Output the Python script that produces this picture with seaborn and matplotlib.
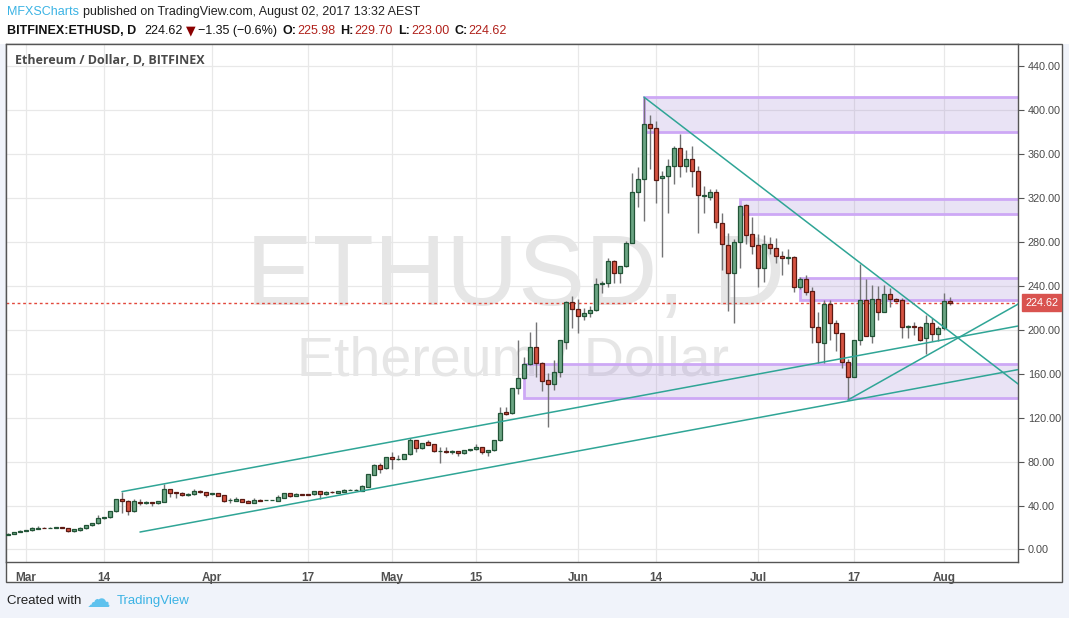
import numpy as np
import pandas as pd
import matplotlib
matplotlib.use("Agg")
import matplotlib.pyplot as plt
import matplotlib.transforms as mtransforms
from matplotlib.patches import Rectangle
from matplotlib import font_manager
import seaborn as sns

# ---------------- data ----------------
dates = pd.date_range("2017-02-26", "2017-08-02", freq="D")

opens = [13, 14.5, 16, 17, 17.5, 19, 20, 19.8, 20, 20.1,
         19.5, 16.5, 18.1, 19.3, 22, 23.8, 28.4, 29.3, 34.7, 45.6,
         44.6, 34.7, 43.7, 42, 43.3, 42, 43.6, 54.8, 52.4, 51.4,
         49.2, 50.2, 53.5, 52, 50.2, 51.5, 49.3, 45, 44.2, 46,
         44.5, 42.6, 45, 45, 45, 44.5, 47.2, 51.2, 49, 50.3,
         50.1, 50.2, 53.3, 50.2, 52.4, 51.5, 52.7, 54.2, 54.2, 53.6,
         57.2, 68, 76.5, 74, 84, 82.4, 82.7, 86.7, 99.4, 92,
         98, 95.8, 89.4, 89.4, 89, 89.4, 87.6, 90.3, 91.2, 93,
         88.5, 90.3, 99.4, 125.2, 124, 146.7, 156, 168.5, 184, 169.4,
         154, 150.4, 162, 188.6, 225, 218.7, 212.3, 215, 217.7, 241.5,
         242.4, 262.4, 251.5, 257.8, 279.6, 326, 337, 387.2, 383.5, 338,
         340, 349.6, 365.4, 349.6, 356, 344.4, 321.6, 320.6, 325.3, 297,
         277, 251.5, 279.7, 313.4, 287, 277, 256, 278, 274.3, 267,
         265.2, 266.2, 238.7, 246, 235.7, 202.3, 188.4, 224, 206, 196.8,
         170.4, 157.4, 190.8, 227, 194.7, 228, 216.5, 233, 228.5, 227,
         203, 204, 203, 192.2, 206.4, 196, 201.4, 225.98]

highs = [14.8, 16.2, 17.3, 17.8, 20.2, 21.4, 20.3, 20.3, 20.3, 20.3,
         19.8, 18.9, 20.3, 22.3, 24.1, 31, 29.9, 35.3, 46, 52.7,
         45, 45.6, 45.6, 44, 43.6, 44.3, 59.3, 55.5, 52.7, 52,
         51, 55, 54.3, 52.4, 51.8, 51.8, 49.6, 46.8, 47.8, 46.3,
         44.8, 46.6, 45.6, 45.4, 45.5, 49.7, 51.7, 51.5, 51.8, 50.6,
         50.4, 53.6, 53.6, 53, 53.6, 53.6, 55, 55.1, 54.9, 58.7,
         69.2, 77.5, 78.5, 84.5, 88.5, 86, 87, 101.2, 99.8, 97,
         99.6, 96, 93, 93, 91, 89.7, 90.6, 91.5, 95.8, 93.3,
         90.6, 99.7, 129.5, 129.5, 147.1, 190.7, 175.6, 197.8, 206.8, 171,
         161, 173, 191, 226, 231, 228, 219.5, 222, 247, 244.5,
         265.3, 264, 258.3, 281, 343.2, 348, 412, 395.7, 390, 344.7,
         356, 367.5, 378.4, 364, 367.5, 349, 331.5, 328.5, 328, 306.8,
         288, 283, 314, 315, 302.8, 287.7, 286.4, 284.8, 283.4, 272.3,
         273.4, 267, 248, 250, 239.4, 216.6, 227, 227, 209, 197.5,
         173.2, 191, 260, 246, 240.9, 240, 240.9, 237.9, 229.5, 228.7,
         204.3, 207.5, 204, 213.7, 211, 203.6, 233.3, 229.70]

lows = [12.8, 14.2, 15.7, 16.8, 17.2, 18.8, 19.5, 19.6, 19.7, 19.5,
        16.3, 16.2, 17, 19, 21.8, 23.5, 28.1, 29, 34.4, 33.5,
        31.7, 34.4, 40.8, 41.7, 39.9, 41, 43.3, 48.1, 47.2, 48.8,
        48.9, 49.9, 51.7, 47.8, 49.8, 48.6, 43.6, 41.9, 43.9, 43.3,
        42.3, 42.3, 44.2, 44.7, 44.7, 44.2, 46.9, 47.8, 48.7, 49.8,
        49.7, 49.9, 45.9, 49.9, 51.7, 51.2, 52.4, 53.9, 53.9, 53.3,
        56.9, 67.5, 70, 73.5, 73, 81.8, 82.4, 86.4, 89, 91.7,
        94.8, 89.1, 79, 88.2, 87, 85.4, 87.3, 90, 90.9, 86.7,
        85.4, 90, 99.1, 122.5, 123.7, 142, 155.7, 168.2, 156.8, 144.7,
        111.8, 145, 157, 183, 202, 197.5, 209, 211.7, 217.4, 233.3,
        239, 242.4, 242.4, 257.5, 279.3, 311.6, 298.9, 347, 315.9, 266,
        306.8, 332.9, 339, 343.7, 329.8, 288.6, 306.5, 318, 292.7, 254.6,
        216.8, 206, 256.7, 277.9, 269, 239.4, 243.9, 269, 261.2, 250,
        260, 234.7, 237, 232, 188.4, 170, 170, 190.8, 181, 165,
        136.2, 156.8, 186.2, 194, 188.4, 209, 216, 220.5, 225.5, 192.3,
        192.3, 195.3, 190.2, 178, 190.2, 190.2, 200, 223.00]

closes = [14.5, 16, 17, 17.5, 19.3, 20, 19.8, 20, 20.1, 19.8,
          16.5, 18.7, 19.6, 22, 23.8, 28.4, 29.6, 35, 45.6, 44.5,
          34.7, 44, 42, 43.5, 42, 44, 54.8, 51.2, 51.2, 49.2,
          50.5, 53.3, 52, 50, 51.5, 49, 44.2, 45.2, 46, 43.6,
          42.6, 45, 44.5, 45.1, 45.2, 47.8, 51.4, 49, 50.8, 50,
          49.9, 53.3, 50.2, 52.4, 52, 53.3, 54.5, 54.4, 54.5, 57.8,
          68.8, 77, 73.3, 84, 82, 82.6, 86.7, 99.4, 92, 96.7,
          95, 89.4, 89.6, 88.5, 89.4, 87.6, 90.3, 91.2, 93, 88.5,
          90.3, 99.4, 124.6, 123, 146.7, 156, 168.5, 184, 169.4, 153.4,
          150.4, 162, 190.4, 225, 218.7, 212.3, 215.3, 218, 241.5, 243,
          262.4, 251.5, 257.8, 278.7, 326, 337, 387.2, 383.5, 336.5, 340,
          349, 365.4, 349.6, 356, 344.4, 322.5, 322.5, 325.3, 297.9, 278,
          251.5, 279.7, 312.8, 286, 276, 256, 278, 274.3, 267, 265.2,
          266.2, 238.7, 246, 234.7, 202.3, 189.2, 224, 206, 196.8, 170.4,
          157.4, 190.8, 227, 194.7, 228, 216.5, 232.6, 228, 226.5, 203,
          204, 203, 190.7, 206.4, 196, 201.4, 226.5, 224.62]

# drawn zones: start date, low, high
zone_start = ["2017-06-12", "2017-06-28", "2017-07-08", "2017-05-23"]
zone_low = [380, 305.3, 227.2, 137.7]
zone_high = [412.5, 319.2, 247, 168.7]

# trend lines: (start date, start value, end date, end value)
trend_names = ["upper channel", "lower channel", "falling", "rising"]
trend_x0 = ["2017-03-17", "2017-03-20", "2017-06-12", "2017-07-16"]
trend_y0 = [52.7, 15.9, 412, 136.2]
trend_x1 = ["2017-08-14", "2017-08-14", "2017-08-14", "2017-08-14"]
trend_y1 = [204.2, 164.5, 148, 225.5]

last_price = 224.62
y_ticks = list(range(0, 441, 40))
x_tick_dates = ["2017-03-01", "2017-03-14", "2017-04-01", "2017-04-17", "2017-05-01",
                "2017-05-15", "2017-06-01", "2017-06-14", "2017-07-01", "2017-07-17",
                "2017-08-01"]
x_tick_labels = ["Mar", "14", "Apr", "17", "May", "15", "Jun", "14", "Jul", "17", "Aug"]

# ---------------- style ----------------
sns.set_style("white")
names = {f.name for f in font_manager.fontManager.ttflist}
NARROW = "Liberation Sans Narrow" if "Liberation Sans Narrow" in names else "Liberation Sans"
plt.rcParams["font.family"] = ["Liberation Sans", "DejaVu Sans"]

ref = pd.Timestamp("2017-03-01")
def day(s):
    return (pd.Timestamp(s) - ref).days

d = np.array([(t - ref).days for t in dates], dtype=float)
o = np.array(opens); h = np.array(highs); l = np.array(lows); c = np.array(closes)

W, H = 1069, 618
def fx(px): return px / W
def fy(py): return 1 - py / H

fig = plt.figure(figsize=(W / 100, H / 100), dpi=100, facecolor="#F0F3FA")
fig.patches.append(Rectangle((0, fy(44)), 1, 44 / H, transform=fig.transFigure,
                             facecolor="white", edgecolor="none", zorder=-2))
fig.patches.append(Rectangle((fx(6), fy(582)), (1062 - 6) / W, (582 - 44) / H,
                             transform=fig.transFigure, facecolor="white",
                             edgecolor="#555555", lw=1, zorder=-1))

ax = fig.add_axes([fx(6), fy(562), (1018 - 6) / W, (562 - 44) / H])
x_lo, x_hi = -3.33, 165.33
ax.set_axisbelow(True)
ax.grid(True, color="#E8E8E8", lw=0.9)

# watermark
ax.text(81.5, 222.7, "ETHUSD, D", ha="center", va="baseline", fontsize=72,
        color="#E6E6E6", family="Liberation Sans", zorder=0.6)
ax.text(81.2, 158, "Ethereum / Dollar", ha="center", va="baseline", fontsize=40,
        color="#E6E6E6", family="Liberation Sans", zorder=0.6)

# zones
for s, lo, hi in zip(zone_start, zone_low, zone_high):
    x0 = day(s)
    ax.add_patch(Rectangle((x0, lo), x_hi - x0 + 1, hi - lo, facecolor="#9575CD",
                           alpha=0.2, edgecolor="none", zorder=1))
    ax.add_patch(Rectangle((x0, lo), x_hi - x0 + 1, hi - lo, facecolor="none",
                           edgecolor="#CDA8F5", lw=2.0, zorder=1.1))

# last price line
ax.axhline(last_price, color="#E2483C", lw=1, ls=(0, (2, 2)), zorder=1.5)

# candles
up = c >= o
ax.vlines(d, l, h, color="#737375", lw=1, zorder=3)
bw = 0.68
ax.bar(d[up], (c - o)[up], bottom=o[up], width=bw, color="#6BA583",
       edgecolor="#225437", lw=0.9, zorder=4)
ax.bar(d[~up], (o - c)[~up], bottom=c[~up], width=bw, color="#D75442",
       edgecolor="#5B1A13", lw=0.9, zorder=4)

# trend lines through seaborn
rows = []
for n, a0, b0, a1, b1 in zip(trend_names, trend_x0, trend_y0, trend_x1, trend_y1):
    rows.append({"line": n, "day": day(a0), "value": b0})
    rows.append({"line": n, "day": day(a1), "value": b1})
tl = pd.DataFrame(rows)
sns.lineplot(data=tl, x="day", y="value", units="line", estimator=None, sort=False,
             color="#2FA596", lw=1.1, ax=ax, zorder=5, legend=False)
ax.set_xlim(x_lo, x_hi)
ax.set_ylim(-11.4, 460.4)
ax.set_xlabel("")
ax.set_ylabel("")

for sp in ax.spines.values():
    sp.set_visible(True)
    sp.set_color("#555555")
    sp.set_linewidth(1)
ax.yaxis.tick_right()
ax.set_yticks(y_ticks)
ax.set_yticklabels([f"{v:.2f}" for v in y_ticks])
ax.tick_params(axis="y", direction="out", length=4, width=0.8, color="#555555",
               labelsize=7.8, labelcolor="#4A4A4A", pad=3)
ax.set_xticks([day(s) for s in x_tick_dates])
ax.set_xticklabels(x_tick_labels)
ax.tick_params(axis="x", direction="out", length=4, width=0.8, color="#555555",
               labelsize=8.5, labelcolor="#505050", pad=3)
for t in ax.get_xticklabels():
    t.set_family([NARROW, "DejaVu Sans"])
    t.set_fontweight("bold")

# price tag
trans = mtransforms.blended_transform_factory(ax.transAxes, ax.transData)
ax.text(1.0 + 7 / 1012, last_price, f"{last_price:.2f}", transform=trans, ha="left",
        va="center", fontsize=7.8, color="white", zorder=10, clip_on=False,
        bbox=dict(boxstyle="square,pad=0.32", facecolor="#D9534F", edgecolor="#D9534F"))

# chart title inside
ax.text((15 - 6) / 1012, (562 - 60) / 518, "Ethereum / Dollar, D, BITFINEX",
        transform=ax.transAxes, ha="left", va="center", fontsize=9,
        color="#4A4A4A", fontweight="bold", family=["Open Sans", "DejaVu Sans"])

# header and footer: runs of text placed one after another
renderer = fig.canvas.get_renderer()

def run(px, py, pieces, size):
    x = px
    for s, color, weight, gap, fam in pieces:
        x += gap
        t = fig.text(fx(x), fy(py), s, va="center", ha="left", fontsize=size,
                     color=color, fontweight=weight,
                     family=fam if fam else [NARROW, "DejaVu Sans"])
        bb = t.get_window_extent(renderer=renderer)
        x += bb.width

run(7, 12, [("MFXSCharts", "#3BB3E4", "normal", 0, None),
            ("published on TradingView.com, August 02, 2017 13:32 AEST", "#222222",
             "normal", 4, None)], 9)
RED = "#B0211B"
run(7, 31, [("BITFINEX:ETHUSD, D", "#111111", "bold", 0, None),
            ("224.62", "#111111", "normal", 8, None),
            ("\u25BC", "#8B0000", "normal", 3, ["DejaVu Sans"]),
            ("\u22121.35 (\u22120.6%)", "#111111", "normal", 3, None),
            ("O:", "#111111", "bold", 5, None),
            ("225.98", RED, "normal", 1, None),
            ("H:", "#111111", "bold", 5, None),
            ("229.70", RED, "normal", 1, None),
            ("L:", "#111111", "bold", 5, None),
            ("223.00", RED, "normal", 1, None),
            ("C:", "#111111", "bold", 5, None),
            ("224.62", RED, "normal", 1, None)], 9)

run(7, 601, [("Created with", "#222222", "normal", 0, None)], 9.5)
fig.text(fx(87), fy(600), "\u2601", va="center", ha="left", fontsize=17,
         color="#5EC2EE", family=["DejaVu Sans"])
fig.text(fx(117), fy(601), "TradingView", va="center", ha="left", fontsize=9.5,
         color="#3BB3E4", family=[NARROW, "DejaVu Sans"])

fig.savefig("out.png", dpi=100, facecolor=fig.get_facecolor())
